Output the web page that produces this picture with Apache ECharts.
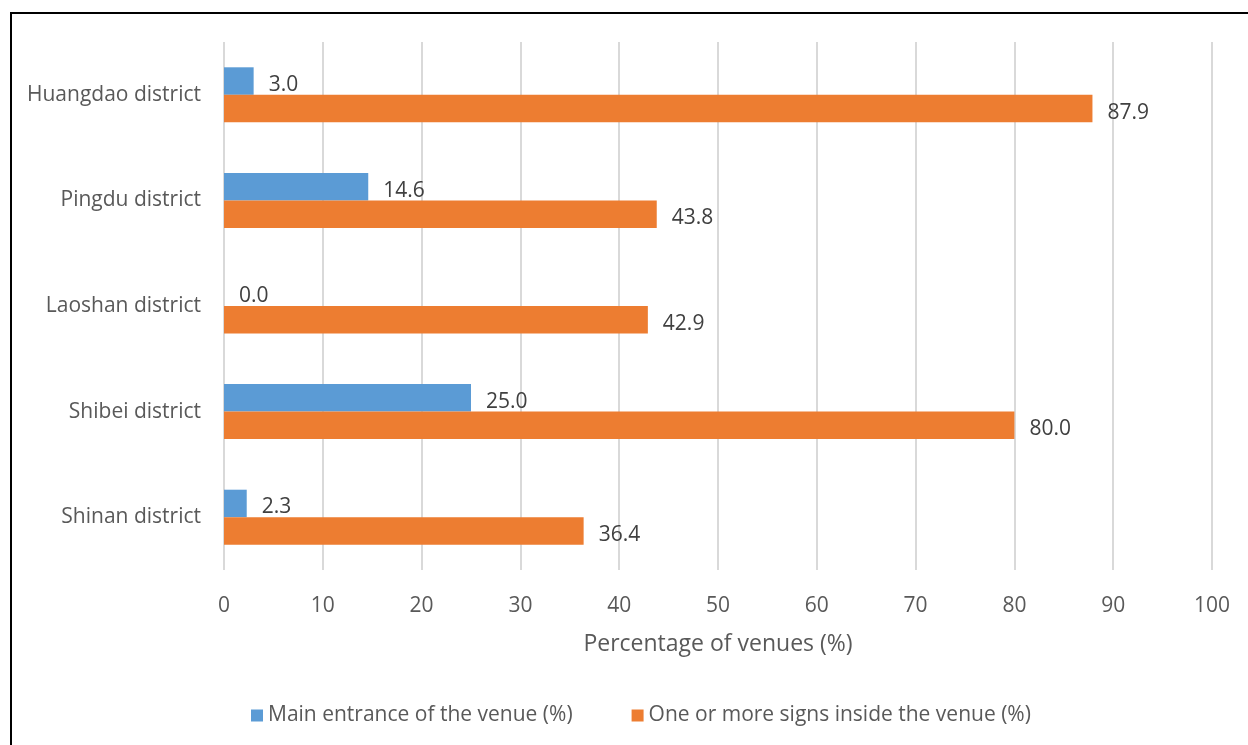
<!DOCTYPE html>
<html>
<head>
<meta charset="utf-8">
<script src="https://cdn.jsdelivr.net/npm/echarts@6/dist/echarts.min.js"></script>
<style>html,body{margin:0;padding:0;background:#fff}#c{width:1248px;height:745px}</style>
</head>
<body>
<div id="c"></div>
<script>
const categories = ['Shinan district', 'Shibei district', 'Laoshan district', 'Pingdu district', 'Huangdao district'];
const mainEntrance = [2.3, 25.0, 0.0, 14.6, 3.0];
const signsInside = [36.4, 80.0, 42.9, 43.8, 87.9];
const seriesNames = ['Main entrance of the venue (%)', 'One or more signs inside the venue (%)'];
const xAxisName = 'Percentage of venues (%)';

const FONT = '"Open Sans", "Noto Sans", sans-serif';
const chart = echarts.init(document.getElementById('c'));
const labelCfg = {
  show: true, position: 'right', distance: 15,
  formatter: p => p.value.toFixed(1),
  color: '#404040', fontSize: 21, fontFamily: FONT, offset: [0, 4]
};
chart.setOption({
  animation: false,
  textStyle: { fontFamily: FONT },
  graphic: [{
    type: 'rect', silent: true, z: 100,
    shape: { x: 11, y: 13, width: 1400, height: 900 },
    style: { fill: 'none', stroke: '#000', lineWidth: 2 }
  }],
  grid: { left: 224, right: 36, top: 42, bottom: 175, containLabel: false },
  legend: {
    bottom: 14, left: 246, itemWidth: 12, itemHeight: 12, itemGap: 59,
    icon: 'rect',
    textStyle: { color: '#595959', fontSize: 21, fontFamily: FONT },
    data: seriesNames
  },
  xAxis: {
    type: 'value', min: 0, max: 100, interval: 10,
    name: xAxisName, nameLocation: 'middle', nameGap: 63,
    nameTextStyle: { color: '#595959', fontSize: 23, fontFamily: FONT },
    axisLine: { show: false }, axisTick: { show: false },
    axisLabel: { color: '#595959', fontSize: 21, margin: 26, fontFamily: FONT },
    splitLine: { lineStyle: { color: '#d9d9d9', width: 2 } }
  },
  yAxis: {
    type: 'category', data: categories,
    axisLine: { show: false }, axisTick: { show: false },
    axisLabel: { color: '#595959', fontSize: 21, margin: 23, fontFamily: FONT, padding: [4, 0, 0, 0] }
  },
  series: [
    { name: seriesNames[0], type: 'bar', data: mainEntrance, barWidth: 27.5, barGap: '0%',
      itemStyle: { color: '#5b9bd5' }, label: labelCfg },
    { name: seriesNames[1], type: 'bar', data: signsInside, barWidth: 27.5, barGap: '0%',
      itemStyle: { color: '#ed7d31' }, label: labelCfg }
  ]
});
</script>
</body>
</html>
